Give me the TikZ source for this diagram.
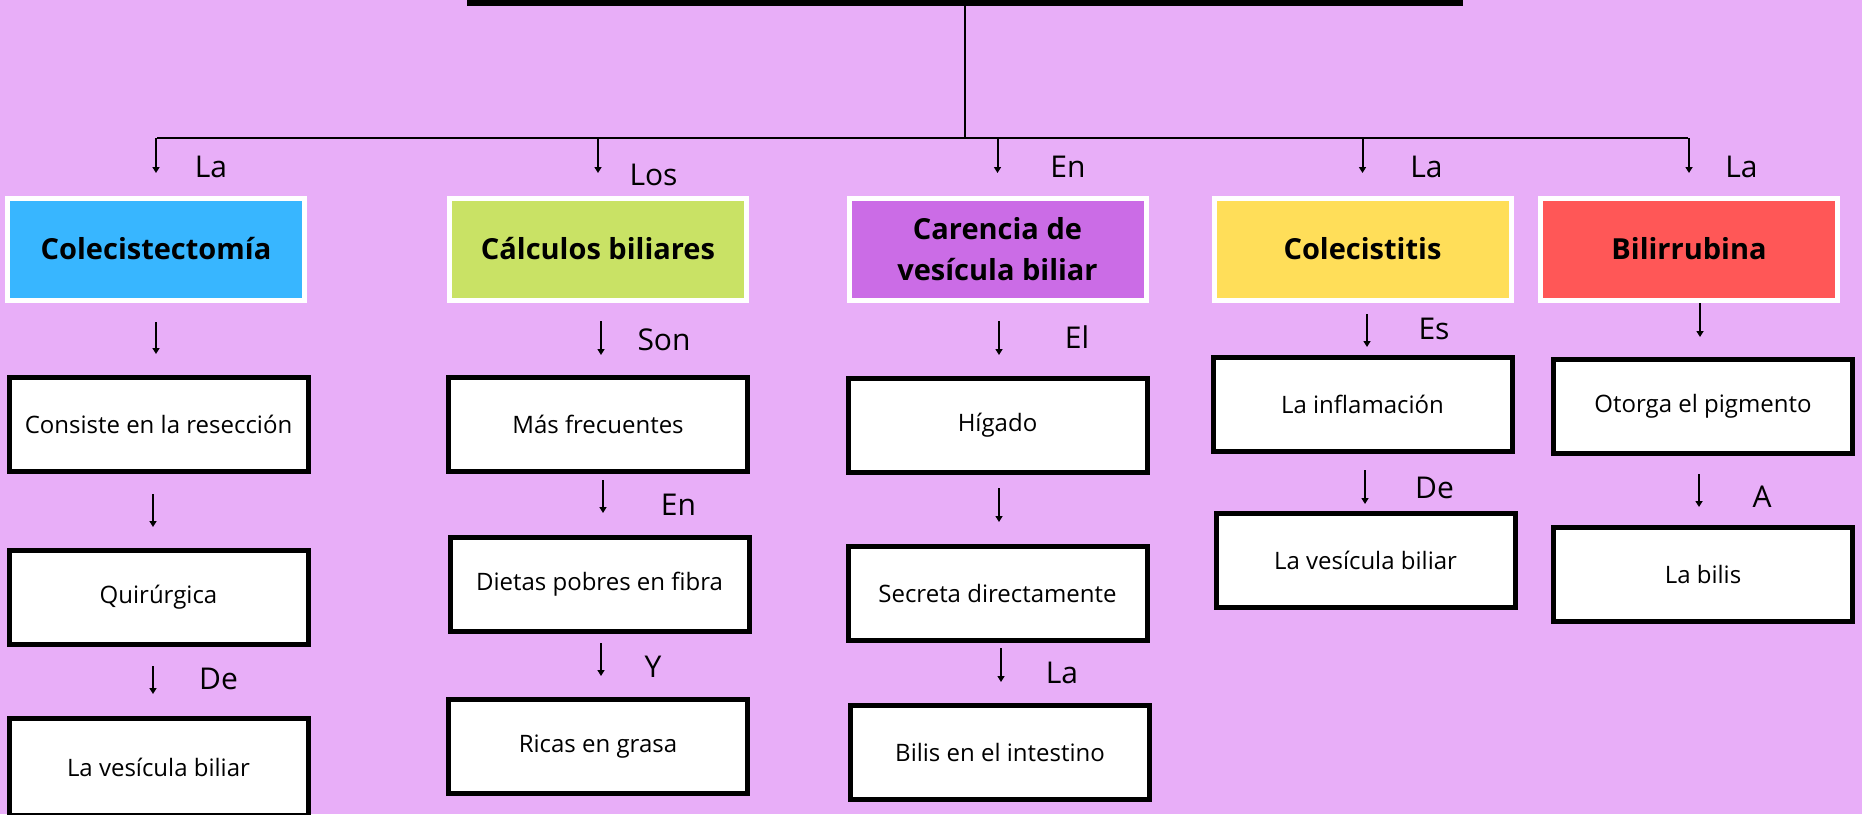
\documentclass[tikz,border=0pt]{standalone}
\usepackage{fontspec}
\setmainfont{Open Sans}
\usetikzlibrary{arrows.meta}
\definecolor{bg}{HTML}{E8AEF8}
\definecolor{cblue}{HTML}{38B6FF}
\definecolor{cgreen}{HTML}{C9E265}
\definecolor{cpurple}{HTML}{CB6CE6}
\definecolor{cyellow}{HTML}{FFDE59}
\definecolor{cred}{HTML}{FF5757}
\newcommand\linkdown[5]{\draw[arr, shorten <=#4, shorten >=#5] ([xshift=#3]#1.south) -- ([xshift=#3]#1.south |- #2.north);}
\begin{document}
\begin{tikzpicture}[x=0.5pt,y=-0.5pt,
  hdr/.style={draw=white, line width=2.5pt, minimum width=148.5pt, minimum height=51pt,
    inner sep=0pt, align=center, font=\fontsize{14.5}{20.5}\selectfont\bfseries},
  wbox/.style={draw=black, fill=white, line width=2.5pt, minimum width=149.5pt, minimum height=47pt,
    inner sep=0pt, font=\fontsize{12}{15}\selectfont},
  lbl/.style={inner sep=0pt, font=\fontsize{15}{18}\selectfont},
  arr/.style={line width=1pt, -{Triangle[length=3pt,width=3.5pt]}}]
\fill[bg] (0,0) rectangle (1862,814);
\useasboundingbox (0,0) rectangle (1862,814);

% title bar and trunk
\node[fill=black, minimum width=498pt, minimum height=3pt, inner sep=0pt, outer sep=0pt] (title) at (965,3) {};
\coordinate (hub) at (965,138);
\coordinate (hl) at (157,138);
\coordinate (hr) at (1688,138);
\draw[line width=0.75pt] (title.south) -- (hub);
\draw[line width=1pt] (hl) -- (hr);

% headers
\node[hdr, fill=cblue]   (H1) at (156,249)  {Colecistectomía};
\node[hdr, fill=cgreen]  (H2) at (598,249)  {Cálculos biliares};
\node[hdr, fill=cpurple] (H3) at (997.5,249) {Carencia de\\vesícula biliar};
\node[hdr, fill=cyellow] (H4) at (1362.5,249) {Colecistitis};
\node[hdr, fill=cred]    (H5) at (1689,249) {Bilirrubina};

% white boxes
\node[wbox] (B11) at (158.5,424.5) {Consiste en la resección};
\node[wbox] (B12) at (158.5,597.5) {Quirúrgica};
\node[wbox, minimum height=48.5pt] (B13) at (158.5,767) {La vesícula biliar};
\node[wbox] (B21) at (598,424.5) {Más frecuentes};
\node[wbox] (B22) at (599.5,584) {Dietas pobres en fibra};
\node[wbox] (B23) at (598,746.5) {Ricas en grasa};
\node[wbox] (B31) at (997.5,425.5) {Hígado};
\node[wbox] (B32) at (997.5,593) {Secreta directamente};
\node[wbox] (B33) at (1000,752.5) {Bilis en el intestino};
\node[wbox] (B41) at (1362.5,404) {La inflamación};
\node[wbox] (B42) at (1365.5,560) {La vesícula biliar};
\node[wbox] (B51) at (1703,406) {Otorga el pigmento};
\node[wbox] (B52) at (1703,574) {La bilis};

% arrows from the trunk
\foreach \h in {H1,H2,H3,H4,H5}
  \draw[arr, shorten >=11.25pt] (\h.north |- hub) -- (\h.north);

% column arrows
\linkdown{H1}{B11}{0pt}{9.75pt}{10.5pt}
\linkdown{B11}{B12}{-2.75pt}{10pt}{10.5pt}
\linkdown{B12}{B13}{-2.75pt}{9.5pt}{11pt}
\linkdown{H2}{B21}{1.5pt}{9.25pt}{10pt}
\linkdown{B21}{B22}{2.5pt}{3pt}{10.75pt}
\linkdown{B22}{B23}{0.75pt}{4.75pt}{10.5pt}
\linkdown{H3}{B31}{0.75pt}{9.25pt}{10.5pt}
\linkdown{B31}{B32}{0.75pt}{6.5pt}{10.75pt}
\linkdown{B32}{B33}{1.75pt}{2.75pt}{10.5pt}
\linkdown{H4}{B41}{2.25pt}{5.75pt}{3.75pt}
\linkdown{B41}{B42}{1.25pt}{8.25pt}{3.25pt}
\linkdown{H5}{B51}{5.5pt}{0.25pt}{9.75pt}
\linkdown{B51}{B52}{-2pt}{9.25pt}{8.75pt}

% labels
\node[lbl] (l1) at (211,167) {La};
\node[lbl] (l2) at (653.5,174.5) {Los};
\node[lbl] (l3) at (1068,166.5) {En};
\node[lbl] (l4) at (1426.5,166.5) {La};
\node[lbl] (l5) at (1741.5,166.5) {La};
\node[lbl] (l13) at (218.5,679) {De};
\node[lbl] (l21) at (664,340) {Son};
\node[lbl] (l22) at (678.5,504.5) {En};
\node[lbl] (l23) at (653,667) {Y};
\node[lbl] (l31) at (1077,337) {El};
\node[lbl] (l33) at (1062,673) {La};
\node[lbl] (l41) at (1434,328.5) {Es};
\node[lbl] (l42) at (1434.5,487.5) {De};
\node[lbl] (l52) at (1762,496.5) {A};
\end{tikzpicture}
\end{document}
